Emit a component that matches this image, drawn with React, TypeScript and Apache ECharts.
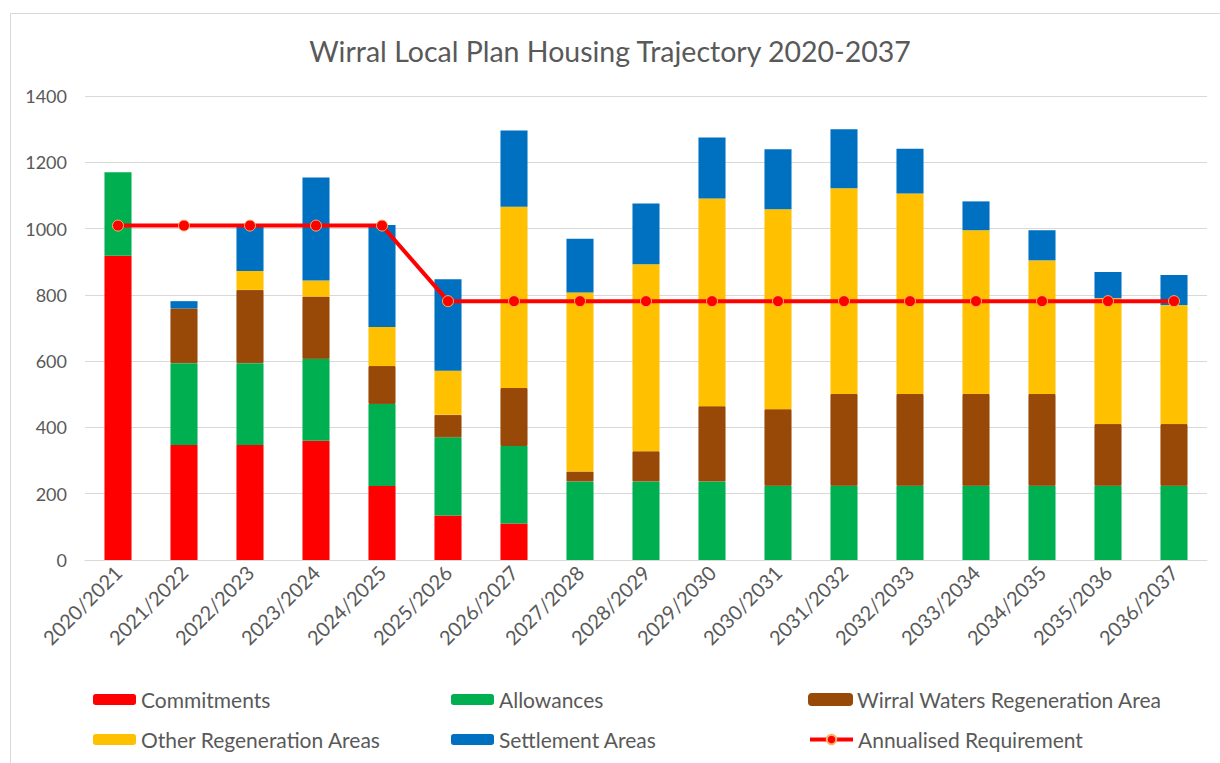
import React, { useEffect, useRef } from "react";
import * as echarts from "echarts";

const categories = [
  "2020/2021", "2021/2022", "2022/2023", "2023/2024", "2024/2025", "2025/2026",
  "2026/2027", "2027/2028", "2028/2029", "2029/2030", "2030/2031", "2031/2032",
  "2032/2033", "2033/2034", "2034/2035", "2035/2036", "2036/2037",
];
const commitments = [918, 347, 347, 360, 223, 134, 110, null, null, null, null, null, null, null, null, null, null];
const allowances = [252, 247, 247, 247, 248, 236, 234, 237, 237, 237, 224, 224, 224, 224, 224, 224, 224];
const wirralWaters = [null, 165, 221, 188, 114, 68, 175, 30, 91, 227, 231, 277, 277, 277, 277, 186, 186];
const otherRegen = [null, null, 57, 48, 118, 133, 547, 540, 564, 627, 603, 621, 605, 494, 403, 380, 359];
const settlement = [null, 22, 136, 311, 308, 276, 230, 162, 184, 184, 181, 178, 135, 87, 91, 79, 91];
const annualised = [1009, 1009, 1009, 1009, 1009, 781, 781, 781, 781, 781, 781, 781, 781, 781, 781, 781, 781];
const yTicks = { min: 0, max: 1400, interval: 200 };

const FONT = "Lato";
const GREY = "#595959";

export default function App() {
  const ref = useRef<HTMLDivElement>(null);
  useEffect(() => {
    if (!ref.current) return;
    const chart = echarts.init(ref.current, null, { renderer: "svg" });
    const legendText = { color: GREY, fontSize: 21, fontFamily: FONT };
    const mkLegend = (name: string, left: number, top: number, extra: any = {}) => ({
      data: [name],
      left,
      top,
      padding: 0,
      itemWidth: 43,
      itemHeight: 11,
      itemGap: 6,
      textStyle: legendText,
      selectedMode: false,
      ...extra,
    });
    const bar = (name: string, data: (number | null)[], color: string, extra: any = {}) => ({
      name,
      type: "bar",
      stack: "total",
      data,
      barWidth: "41%",
      itemStyle: { color, ...extra },
      emphasis: { disabled: true },
    });
    chart.setOption({
      animation: false,
      backgroundColor: "#ffffff",
      textStyle: { fontFamily: FONT },
      title: {
        text: "Wirral Local Plan Housing Trajectory 2020-2037",
        left: "center",
        top: 31,
        textStyle: { color: GREY, fontSize: 28.5, fontWeight: "normal", fontFamily: FONT },
      },
      graphic: [
        {
          type: "rect",
          shape: { x: 10.5, y: 13.5, width: 1220, height: 770 },
          style: { fill: "none", stroke: "#d9d9d9", lineWidth: 1 },
          silent: true,
        },
      ],
      grid: { left: 85, right: 13, top: 96, bottom: 203, containLabel: false },
      legend: [
        mkLegend("Commitments", 93, 689),
        mkLegend("Allowances", 451, 689),
        mkLegend("Wirral Waters Regeneration Area", 808, 689),
        mkLegend("Other Regeneration Areas", 93, 729),
        mkLegend("Settlement Areas", 451, 729),
        mkLegend("Annualised Requirement", 808, 729, { itemHeight: 12, lineStyle: { width: 4 } }),
      ],
      xAxis: {
        type: "category",
        data: categories,
        axisLine: { lineStyle: { color: "#d9d9d9", width: 1 } },
        axisTick: { show: false },
        axisLabel: { rotate: 45, interval: 0, color: GREY, fontSize: 20, fontFamily: FONT, margin: 9 },
      },
      yAxis: {
        type: "value",
        min: yTicks.min,
        max: yTicks.max,
        interval: yTicks.interval,
        axisLine: { show: false },
        axisTick: { show: false },
        axisLabel: {
          color: GREY,
          fontSize: 18,
          fontFamily: FONT,
          margin: 18,
          formatter: (v: number) => String(v),
        },
        splitLine: { lineStyle: { color: "#d9d9d9", width: 1 } },
      },
      series: [
        bar("Commitments", commitments, "#FF0000"),
        bar("Allowances", allowances, "#00B050"),
        bar("Wirral Waters Regeneration Area", wirralWaters, "#984807", { borderColor: "#984807", borderWidth: 1 }),
        bar("Other Regeneration Areas", otherRegen, "#FFC000"),
        bar("Settlement Areas", settlement, "#0070C0"),
        {
          name: "Annualised Requirement",
          type: "line",
          data: annualised,
          symbol: "circle",
          symbolSize: 11,
          lineStyle: { color: "#FF0000", width: 4 },
          itemStyle: { color: "#FF0000", borderColor: "#F8B26A", borderWidth: 1 },
          emphasis: { disabled: true },
          z: 5,
        },
      ],
    });
    return () => chart.dispose();
  }, []);
  return <div ref={ref} style={{ width: 1220, height: 763, position: "absolute", left: 0, top: 0 }} />;
}
